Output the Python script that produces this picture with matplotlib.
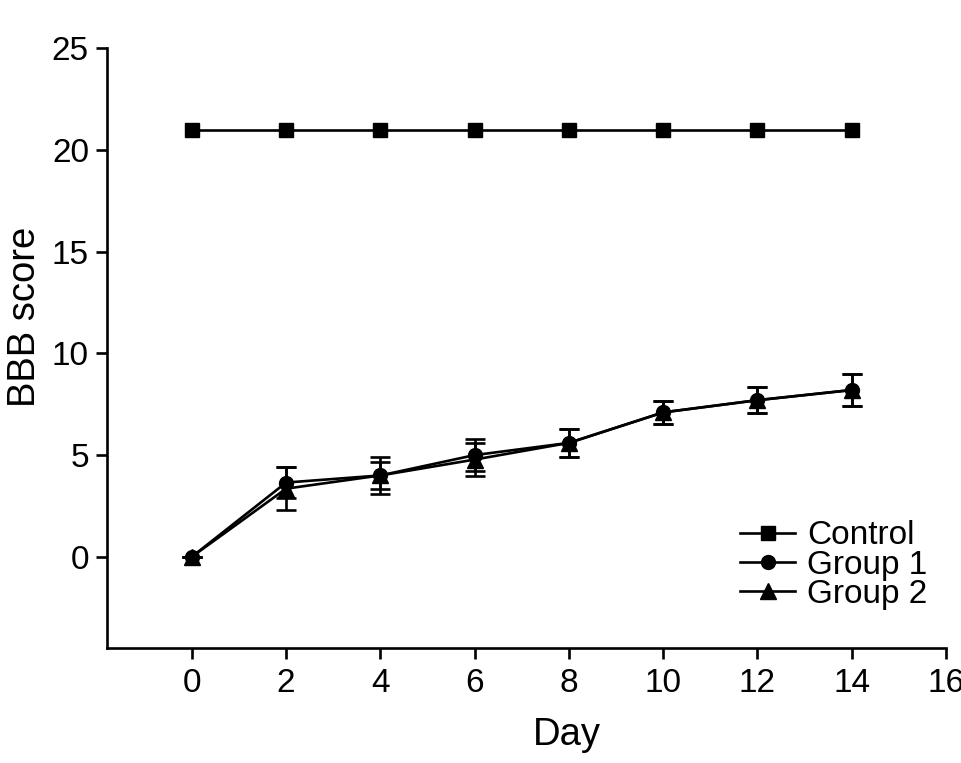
import matplotlib
matplotlib.use("Agg")
import matplotlib.pyplot as plt
from matplotlib.lines import Line2D

plt.rcParams['font.family'] = ['Liberation Sans', 'DejaVu Sans']

days = [0, 2, 4, 6, 8, 10, 12, 14]
control = [21, 21, 21, 21, 21, 21, 21, 21]
group1 = [0.0, 3.65, 4.0, 5.0, 5.6, 7.1, 7.7, 8.2]
group1_err = [0.0, 0.78, 0.9, 0.8, 0.7, 0.58, 0.65, 0.8]
group2 = [0.0, 3.35, 4.0, 4.78, 5.6, 7.1, 7.7, 8.2]
group2_err = [0.0, 1.05, 0.68, 0.8, 0.7, 0.58, 0.65, 0.8]
xticks = [0, 2, 4, 6, 8, 10, 12, 14, 16]
yticks = [0, 5, 10, 15, 20, 25]
labels = ['Control', 'Group 1', 'Group 2']

fig = plt.figure(figsize=(9.62, 7.63), dpi=100)
ax = fig.add_axes([0.1112, 0.1503, 0.8722, 0.7864])

lw = 1.9
ms = 10
cs = 7
ax.plot(days, control, color='black', lw=lw, marker='s', ms=ms, label=labels[0], zorder=3)
ax.errorbar(days, group1, yerr=group1_err, color='black', lw=lw, marker='o', ms=ms,
            capsize=cs, capthick=lw, elinewidth=lw, label=labels[1], zorder=3)
ax.errorbar(days, group2, yerr=group2_err, color='black', lw=lw, marker='^', ms=ms + 1,
            capsize=cs, capthick=lw, elinewidth=lw, label=labels[2], zorder=3)

ax.set_xlim(-1.8, 16)
ax.set_ylim(-4.5, 25)
ax.set_xticks(xticks)
ax.set_yticks(yticks)
ax.spines['top'].set_visible(False)
ax.spines['right'].set_visible(False)
for s in ['left', 'bottom']:
    ax.spines[s].set_linewidth(1.9)
ax.tick_params(direction='out', length=8, width=1.9, labelsize=24)
ax.tick_params(axis='x', pad=6)
ax.tick_params(axis='y', pad=5)

fig.text(566.7 / 962, 1 - 745 / 763, 'Day', fontsize=27.5, ha='center', va='baseline')
fig.text(25 / 962, 1 - 317 / 763, 'BBB score', fontsize=27.5, rotation=90,
         ha='center', va='center')

hs = [Line2D([], [], color='black', lw=lw, marker=m, ms=s)
      for m, s in [('s', ms), ('o', ms), ('^', ms + 1)]]
fig.legend(hs, labels, loc='upper left',
           bbox_to_anchor=(740 / 962, 0.318), frameon=False, fontsize=24,
           labelspacing=-0.05, handlelength=1.65, handletextpad=0.36, borderpad=0,
           borderaxespad=0)

fig.savefig('out.png', dpi=100)
